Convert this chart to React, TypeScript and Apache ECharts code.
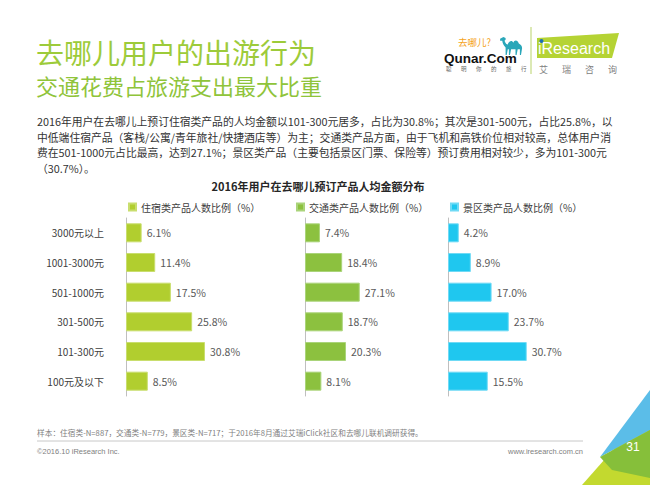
import { useEffect, useRef } from "react";
import * as echarts from "echarts";

const TITLE_MAIN = "去哪儿用户的出游行为";
const TITLE_SUB = "交通花费占旅游支出最大比重";
const PARAGRAPH_LINES = [
  "2016年用户在去哪儿上预订住宿类产品的人均金额以101-300元居多，占比为30.8%；其次是301-500元，占比25.8%，以",
  "中低端住宿产品（客栈/公寓/青年旅社/快捷酒店等）为主；交通类产品方面，由于飞机和高铁价位相对较高，总体用户消",
  "费在501-1000元占比最高，达到27.1%；景区类产品（主要包括景区门票、保险等）预订费用相对较少，多为101-300元",
  "（30.7%）。",
];
const CHART_TITLE = "2016年用户在去哪儿预订产品人均金额分布";
const CATEGORIES = ["3000元以上", "1001-3000元", "501-1000元", "301-500元", "101-300元", "100元及以下"];
const SERIES_NAMES = ["住宿类产品人数比例（%）", "交通类产品人数比例（%）", "景区类产品人数比例（%）"];
const LODGING = [6.1, 11.4, 17.5, 25.8, 30.8, 8.5];
const TRANSPORT = [7.4, 18.4, 27.1, 18.7, 20.3, 8.1];
const SCENIC = [4.2, 8.9, 17.0, 23.7, 30.7, 15.5];
const SOURCE_NOTE = "样本：住宿类-N=887，交通类-N=779，景区类-N=717；于2016年8月通过艾瑞iClick社区和去哪儿联机调研获得。";
const COPYRIGHT = "©2016.10 iResearch Inc.";
const WEBSITE = "www.iresearch.com.cn";
const PAGE_NUMBER = "31";
const QUNAR_TAG = "去哪儿?";
const QUNAR_NAME = "Qunar.Com";
const QUNAR_SLOGAN = ["聪", "明", "你", "的", "旅", "行"];
const IRESEARCH_NAME = "iResearch";
const IRESEARCH_CN = ["艾", "瑞", "咨", "询"];

const CAMEL =
  "M1,3 L4,1 L6,2 L6,4 L5,5 C6,8 7,9 8,9 C9,5 12,4 13,7 C14,4 17,4 18,8 C20,9 21,11 21,13 L20,20 L19,20 L19,14 L17,14 L16,20 L15,20 L15,14 L11,14 L10,20 L9,20 L9,14 L8,14 L7,20 L6,20 L6,12 C4,10 3,7 3,5 L1,5 Z";
echarts.graphic.registerShape("camel", echarts.graphic.extendPath(CAMEL, {}) as any);

const FONT = "'Noto Sans CJK SC', 'Microsoft YaHei', sans-serif";
const LATIN = "'Liberation Sans', Arial, sans-serif";

export default function App() {
  const ref = useRef<HTMLDivElement>(null);
  useEffect(() => {
    if (!ref.current) return;
    const chart = echarts.init(ref.current, undefined, { renderer: "svg" });
    const seriesData = [LODGING, TRANSPORT, SCENIC];
    const colors = ["#b1ce2f", "#8cc13f", "#1fc7ef"];
    const borders = ["#c9de6e", "#aad47a", "#6fdaf5"];
    const maxes = [39, 49.5, 39];
    const gridLefts = [126, 305, 448];
    const legendLefts = [123, 291, 445];

    const txt = (text: string, x: number, y: number, size: number, fill: string, extra: any = {}) => ({
      type: "text",
      x,
      y,
      silent: true,
      style: {
        text,
        fill,
        fontSize: size,
        fontFamily: FONT,
        textVerticalAlign: "middle",
        ...extra,
      },
    });

    const graphics: any[] = [
      txt(TITLE_MAIN, 36, 52, 28, "#9dcb3a"),
      txt(TITLE_SUB, 36, 85, 22, "#8fc43a"),
      ...PARAGRAPH_LINES.map((l, i) => txt(l, 37, 121 + i * 15.5, 10.8, "#333333")),
      txt(CHART_TITLE, 318, 186, 11, "#262626", { textAlign: "center", fontWeight: "bold" }),
      // Qunar logo
      txt(QUNAR_TAG, 458, 42, 9.5, "#f5a31a"),
      {
        type: "camel",
        x: 499,
        y: 36,
        scaleX: 1.1,
        scaleY: 0.95,
        silent: true,
        style: { fill: "#2aa7b9" },
      },
      txt(QUNAR_NAME, 444, 58, 13.5, "#111111", { fontWeight: "bold", fontFamily: LATIN }),
      ...QUNAR_SLOGAN.map((c, i) => txt(c, 446 + i * 15, 69, 5.5, "#666666")),
      {
        type: "line",
        silent: true,
        shape: { x1: 531, y1: 27, x2: 531, y2: 74 },
        style: { stroke: "#b9d36a", lineWidth: 1 },
      },
      {
        type: "polygon",
        silent: true,
        shape: { points: [[537, 38], [619, 33], [612, 58], [537, 58]] },
        style: { fill: "#b5d334" },
      },
      txt(IRESEARCH_NAME, 538, 48, 16, "#ffffff", { fontFamily: LATIN }),
      { type: "circle", silent: true, shape: { cx: 541.5, cy: 41, r: 2 }, style: { fill: "#1f6fb5" } },
      ...IRESEARCH_CN.map((c, i) => txt(c, 539 + i * 23, 69, 9, "#808080")),
      // footer
      txt(SOURCE_NOTE, 37, 432, 7.7, "#7f7f7f"),
      {
        type: "line",
        silent: true,
        shape: { x1: 37, y1: 441, x2: 583, y2: 441 },
        style: { stroke: "#c8c8c8", lineWidth: 1 },
      },
      txt(COPYRIGHT, 37, 451, 7.5, "#7f7f7f", { fontFamily: LATIN }),
      txt(WEBSITE, 583, 451, 7.5, "#7f7f7f", { fontFamily: LATIN, textAlign: "right" }),
      // corner decoration
      {
        type: "polygon",
        silent: true,
        shape: { points: [[582, 485], [650, 408], [650, 485]] },
        style: { fill: "#c3d92f" },
      },
      {
        type: "polygon",
        silent: true,
        shape: { points: [[600, 457], [650, 390], [650, 430]] },
        style: { fill: "#5bbde8" },
      },
      {
        type: "polygon",
        silent: true,
        shape: { points: [[600, 457], [650, 430], [650, 478], [612, 470]] },
        style: { fill: "#86bf3a" },
      },
      txt(PAGE_NUMBER, 633, 447, 12, "#ffffff", { fontFamily: LATIN, textAlign: "center" }),
    ];

    chart.setOption({
      animation: false,
      backgroundColor: "#ffffff",
      textStyle: { fontFamily: FONT },
      legend: SERIES_NAMES.map((n, i) => ({
        data: [n],
        left: legendLefts[i],
        top: 197,
        icon: "rect",
        itemWidth: 7,
        itemHeight: 7,
        selectedMode: false,
        textStyle: { fontSize: 10, color: "#404040", fontFamily: FONT },
      })),
      grid: gridLefts.map((l) => ({ left: l, top: 218, width: 100, height: 178 })),
      xAxis: maxes.map((m, i) => ({ gridIndex: i, type: "value", min: 0, max: m, show: false })),
      yAxis: maxes.map((_, i) => ({
        gridIndex: i,
        type: "category",
        data: CATEGORIES,
        inverse: true,
        axisLine: { show: true, lineStyle: { color: "#bfbfbf", width: 1 } },
        axisTick: { show: false },
        axisLabel: { show: i === 0, margin: 22, fontSize: 10, color: "#404040", fontFamily: FONT },
      })),
      series: seriesData.map((d, i) => ({
        name: SERIES_NAMES[i],
        type: "bar",
        xAxisIndex: i,
        yAxisIndex: i,
        data: d,
        barWidth: 19,
        itemStyle: { color: colors[i], borderColor: borders[i], borderWidth: 1 },
        label: {
          show: true,
          position: "right",
          distance: 5,
          fontSize: 10.5,
          color: "#595959",
          fontFamily: FONT,
          formatter: (p: any) => Number(p.value).toFixed(1) + "%",
        },
      })),
      graphic: graphics,
    });
    return () => chart.dispose();
  }, []);
  return (
    <div
      ref={ref}
      style={{ position: "fixed", left: 0, top: 0, width: 650, height: 485, background: "#fff" }}
    />
  );
}
